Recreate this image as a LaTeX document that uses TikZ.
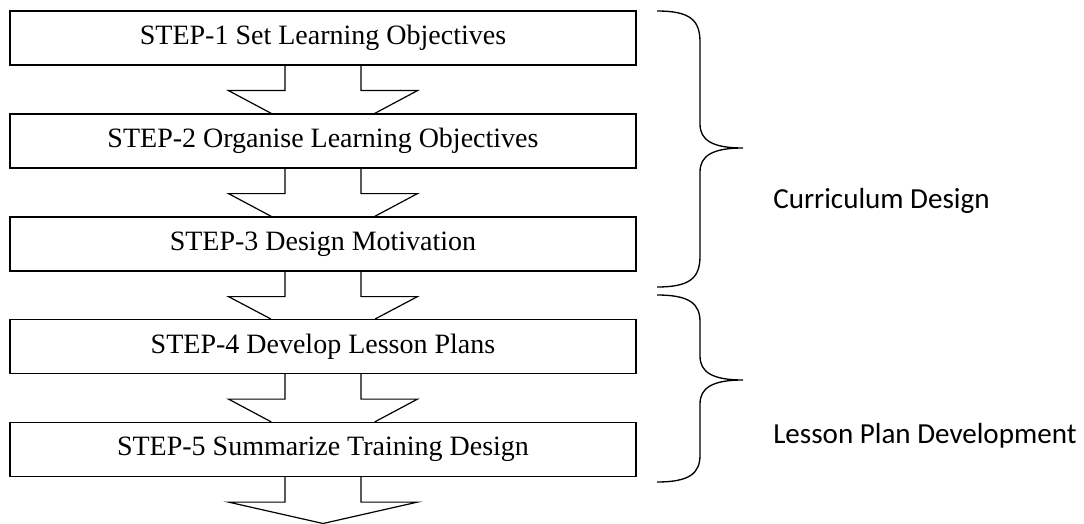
\documentclass[tikz,border=0pt]{standalone}
\usepackage{fontspec}
\setmainfont{Liberation Serif}
\newfontfamily\labfont{Carlito}
\usetikzlibrary{calc}
\begin{document}
\begin{tikzpicture}[x=0.75pt,y=-0.75pt,
  stepbox/.style={draw,line width=0.9pt,minimum width=469.5pt,minimum height=40.5pt,inner sep=0pt,font=\fontsize{21}{25}\selectfont},
  arr/.style={draw,line width=0.9pt,line join=miter},
  brace/.style={draw,line width=1pt},
  lab/.style={anchor=west,inner sep=0pt,font=\labfont\fontsize{21.8}{26}\selectfont}]
\useasboundingbox (0,0) rectangle (1084,524);
\node[stepbox] (s1) at (323,38) {STEP-1 Set Learning Objectives};
\node[stepbox] (s2) at (323,141) {STEP-2 Organise Learning Objectives};
\node[stepbox] (s3) at (323,244) {STEP-3 Design Motivation};
\node[stepbox] (s4) at (323,346.5) {STEP-4 Develop Lesson Plans};
\node[stepbox] (s5) at (323,449.5) {STEP-5 Summarize Training Design};
\coordinate (s6) at (323,523.5);
\foreach \a/\b in {s1/s2,s2/s3,s3/s4,s4/s5,s5/s6}{
  \draw[arr] ($(\a.south)+(-38,0)$) -- ++(0,25) -- ++(-56.5,0) -- (\b)
    -- ($(\a.south)+(94.5,25)$) -- ++(-56.5,0) -- ($(\a.south)+(38,0)$);
}
\coordinate (b1t) at (657,11);
\coordinate (b1m) at (743,148);
\coordinate (b1b) at (657,287);
\draw[brace] (b1t) .. controls (690,11) and (700,20) .. (700,42) -- (700,124)
  .. controls (700,140) and (712,148) .. (b1m)
  .. controls (712,148) and (700,156) .. (700,172) -- (700,256)
  .. controls (700,278) and (690,287) .. (b1b);
\coordinate (b2t) at (657,295);
\coordinate (b2m) at (743,380);
\coordinate (b2b) at (657,482);
\draw[brace] (b2t) .. controls (690,295) and (700,304) .. (700,322) -- (700,356)
  .. controls (700,372) and (712,380) .. (b2m)
  .. controls (712,380) and (700,388) .. (700,404) -- (700,455)
  .. controls (700,473) and (690,482) .. (b2b);
\node[lab] (l1) at (773,201) {Curriculum Design};
\node[lab] (l2) at (773,436) {Lesson Plan Development};
\end{tikzpicture}
\end{document}
